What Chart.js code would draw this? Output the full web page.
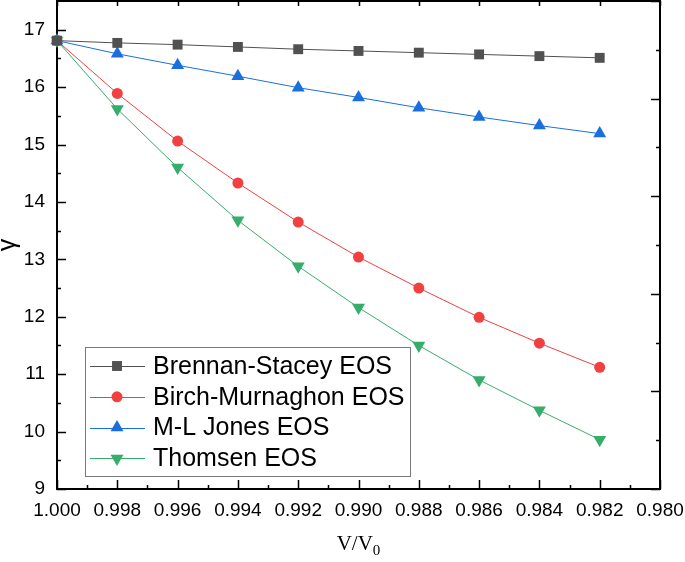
<!DOCTYPE html>
<html>
<head>
<meta charset="utf-8">
<script src="https://cdn.jsdelivr.net/npm/chart.js@4.4.0/dist/chart.umd.min.js"></script>
<style>
  body { margin: 0; background: #fff; }
  canvas { display: block; }
</style>
</head>
<body>
<canvas id="gammaChart" width="685" height="562"></canvas>
<script>
// Data
const volumeRatio = [1.000, 0.998, 0.996, 0.994, 0.992, 0.990, 0.988, 0.986, 0.984, 0.982];
const brennanStacey = [16.81, 16.77, 16.74, 16.70, 16.66, 16.63, 16.60, 16.57, 16.54, 16.51];
const birchMurnaghan = [16.81, 15.89, 15.06, 14.33, 13.65, 13.04, 12.50, 11.99, 11.54, 11.12];
const mlJones = [16.81, 16.58, 16.38, 16.19, 15.99, 15.82, 15.64, 15.48, 15.33, 15.19];
const thomsen = [16.81, 15.62, 14.60, 13.68, 12.88, 12.16, 11.50, 10.90, 10.37, 9.86];
const seriesNames = ['Brennan-Stacey EOS', 'Birch-Murnaghon EOS', 'M-L Jones EOS', 'Thomsen EOS'];

const FONT = 'Arial, "Liberation Sans", sans-serif';

function toPoints(values) {
  return values.map((v, i) => ({ x: volumeRatio[i], y: v }));
}

function makeSeries(label, values, color, style, radius, rotation) {
  return {
    label: label,
    data: toPoints(values),
    borderColor: color,
    backgroundColor: color,
    borderWidth: 1,
    pointStyle: style,
    pointRadius: radius,
    pointHoverRadius: radius,
    pointRotation: rotation || 0,
    pointBorderWidth: 0,
    pointBackgroundColor: color,
    clip: false,
    tension: 0
  };
}

// Frame, inward ticks (incl. minor ones) and the subscripted x title
const frameTicks = {
  id: 'frameTicks',
  beforeDatasetsDraw(chart) {
    const { ctx, chartArea: a, scales } = chart;
    const x = scales.x, y = scales.y, y2 = scales.y2;
    ctx.save();
    ctx.strokeStyle = '#000';
    ctx.lineWidth = 1.5;
    ctx.beginPath();
    // bottom + top
    const xv = x.ticks.map(t => t.value);
    xv.forEach((v, i) => {
      const px = Math.round(x.getPixelForValue(v)) + 0.5;
      ctx.moveTo(px, a.bottom); ctx.lineTo(px, a.bottom - 9);
      ctx.moveTo(px, a.top); ctx.lineTo(px, a.top + 5);
      if (i < xv.length - 1) {
        const pm = Math.round(x.getPixelForValue((v + xv[i + 1]) / 2)) + 0.5;
        ctx.moveTo(pm, a.bottom); ctx.lineTo(pm, a.bottom - 4);
      }
    });
    // left
    const yv = y.ticks.map(t => t.value);
    yv.forEach(v => {
      const py = Math.round(y.getPixelForValue(v)) + 0.5;
      ctx.moveTo(a.left, py); ctx.lineTo(a.left + 9, py);
      const pm = Math.round(y.getPixelForValue(v + 0.5)) + 0.5;
      if (v + 0.5 < y.max) { ctx.moveTo(a.left, pm); ctx.lineTo(a.left + 4, pm); }
    });
    // right
    y2.ticks.forEach(t => {
      const py = Math.round(y2.getPixelForValue(t.value)) + 0.5;
      const len = Number.isInteger(Math.round(t.value * 10) / 10) ? 9 : 4;
      ctx.moveTo(a.right, py); ctx.lineTo(a.right - len, py);
    });
    ctx.stroke();
    ctx.lineWidth = 2;
    ctx.strokeRect(a.left, a.top, a.right - a.left, a.bottom - a.top);

    // x title V/V0
    const cx = (a.left + a.right) / 2;
    const base = 550;
    ctx.fillStyle = '#000';
    ctx.textBaseline = 'alphabetic';
    ctx.font = '21px "Liberation Serif", "Times New Roman", serif';
    const main = 'V/V';
    const wMain = ctx.measureText(main).width;
    ctx.font = '15px "Liberation Serif", "Times New Roman", serif';
    const wSub = ctx.measureText('0').width;
    const start = cx - (wMain + wSub) / 2;
    ctx.font = '21px "Liberation Serif", "Times New Roman", serif';
    ctx.textAlign = 'left';
    ctx.fillText(main, start, base);
    ctx.font = '15px "Liberation Serif", "Times New Roman", serif';
    ctx.fillText('0', start + wMain, base + 5);
    ctx.restore();
  }
};

// Boxed legend inside the plot, line + marker samples
const boxLegend = {
  id: 'boxLegend',
  afterDatasetsDraw(chart) {
    const { ctx } = chart;
    const box = { left: 85, top: 347, width: 325, height: 129 };
    ctx.save();
    ctx.fillStyle = '#fff';
    ctx.fillRect(box.left, box.top, box.width, box.height);
    ctx.strokeStyle = '#7a7a7a';
    ctx.lineWidth = 1;
    ctx.strokeRect(box.left + 0.5, box.top + 0.5, box.width, box.height);
    chart.data.datasets.forEach((ds, i) => {
      const rowY = box.top + 19 + i * 30.8;
      ctx.strokeStyle = ds.borderColor;
      ctx.lineWidth = 1;
      ctx.beginPath();
      ctx.moveTo(box.left + 5, Math.round(rowY) + 0.5);
      ctx.lineTo(box.left + 60, Math.round(rowY) + 0.5);
      ctx.stroke();
      ctx.fillStyle = ds.pointBackgroundColor;
      Chart.helpers.drawPoint(ctx, {
        pointStyle: ds.pointStyle,
        radius: ds.pointRadius,
        rotation: ds.pointRotation,
        borderWidth: 0
      }, box.left + 32, rowY);
      ctx.fillStyle = '#000';
      ctx.font = '25px ' + FONT;
      ctx.textBaseline = 'middle';
      ctx.textAlign = 'left';
      ctx.fillText(ds.label, box.left + 68, rowY + 1);
    });
    ctx.restore();
  }
};

new Chart(document.getElementById('gammaChart'), {
  type: 'line',
  data: {
    datasets: [
      makeSeries(seriesNames[0], brennanStacey, '#515151', 'rect', 7, 0),
      makeSeries(seriesNames[1], birchMurnaghan, '#F14040', 'circle', 5.5, 0),
      makeSeries(seriesNames[2], mlJones, '#1A6FDF', 'triangle', 7.5, 0),
      makeSeries(seriesNames[3], thomsen, '#37AD6B', 'triangle', 7.5, 180)
    ]
  },
  options: {
    responsive: false,
    animation: false,
    layout: { autoPadding: false, padding: { top: 1, right: 25, left: 0, bottom: 0 } },
    plugins: {
      legend: { display: false },
      tooltip: { enabled: false }
    },
    scales: {
      x: {
        type: 'linear',
        reverse: true,
        min: 0.98,
        max: 1.0,
        grid: { display: false, drawTicks: false },
        border: { display: false },
        ticks: {
          stepSize: 0.002,
          padding: 10,
          color: '#000',
          font: { family: FONT, size: 19 },
          maxRotation: 0,
          autoSkip: false,
          callback: v => Number(v).toFixed(3)
        },
        afterFit: s => { s.height = 73; s.paddingLeft = 0; s.paddingRight = 0; }
      },
      y: {
        type: 'linear',
        position: 'left',
        min: 9,
        max: 17.5,
        grid: { display: false, drawTicks: false },
        border: { display: false },
        ticks: {
          stepSize: 1,
          includeBounds: false,
          padding: 12,
          color: '#000',
          font: { family: FONT, size: 19 }
        },
        title: {
          display: true,
          text: 'γ',
          color: '#000',
          font: { family: FONT, size: 25 },
          padding: { top: -7, bottom: 0 }
        },
        afterFit: s => { s.width = 57; s.paddingTop = 0; s.paddingBottom = 0; }
      },
      y2: {
        type: 'linear',
        position: 'right',
        min: 0,
        max: 5,
        grid: { display: false, drawTicks: false },
        border: { display: false },
        ticks: { display: false, stepSize: 0.5 },
        afterFit: s => { s.width = 0; s.paddingTop = 0; s.paddingBottom = 0; }
      }
    }
  },
  plugins: [frameTicks, boxLegend]
});
</script>
</body>
</html>
